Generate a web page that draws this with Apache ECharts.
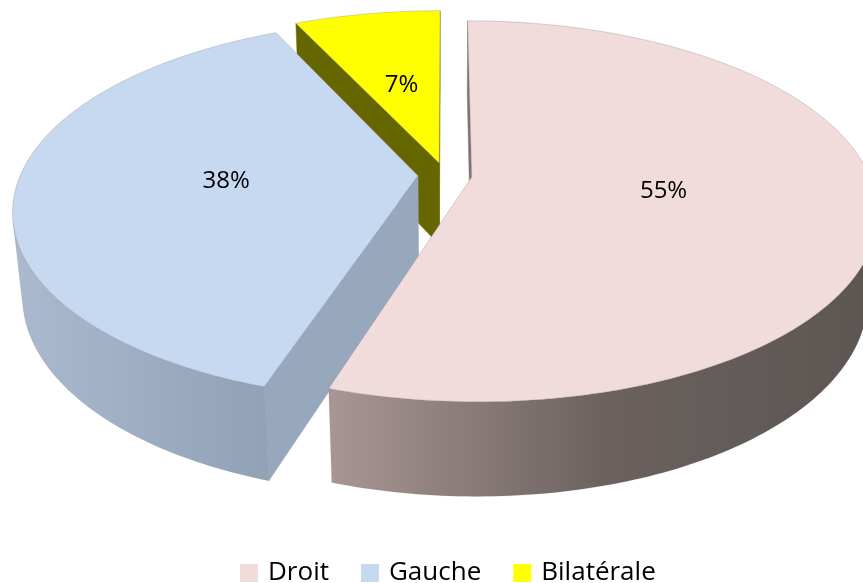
<!DOCTYPE html>
<html>
<head>
<meta charset="utf-8">
<script src="https://cdn.jsdelivr.net/npm/echarts@6/dist/echarts.min.js"></script>
<style>
  html, body { margin: 0; padding: 0; background: #ffffff; }
  #chart { width: 863px; height: 583px; }
</style>
</head>
<body>
<div id="chart"></div>
<script>
// Répartition par côté
const categories = ['Droit', 'Gauche', 'Bilatérale'];
const shares = [55, 38, 7];

// Palette: top faces, radial cut faces, outer rim gradient stops
const topColors = ['#F2DCDB', '#C6D9F1', '#FFFF00'];
const cutColors = ['#7f7371', '#97a8bc', '#666600'];
const rimStops = [
  [[0, '#a99694'], [0.5, '#6b6260'], [1, '#5c5552']],
  [[0, '#abbace'], [0.6, '#9aabc0'], [1, '#91a2b7']],
  [[0, '#b3b300'], [1, '#808000']]
];

// Camera and solid geometry (unit pie radius)
const view = {
  cx: 445, cy: 175, f: 1960, D: 4.93,
  tilt: 27.5 * Math.PI / 180,
  depth: 0.24, explode: 0.068, labelAt: 0.48
};

function project(X, Y, Z) {
  const c = Math.cos(view.tilt), s = Math.sin(view.tilt);
  const yc = Y * c + Z * s;
  const d = view.D + Z * c - Y * s;
  return [view.cx + view.f * X / d, view.cy - view.f * yc / d];
}

const camera = [0, view.D * Math.sin(view.tilt), -view.D * Math.cos(view.tilt)];
function facesCamera(n, p) {
  return n[0] * (camera[0] - p[0]) + n[1] * (camera[1] - p[1]) + n[2] * (camera[2] - p[2]) > 0;
}

const total = shares.reduce((a, b) => a + b, 0);

function sliceRenderer(idx) {
  return function (params, api) {
    const value = api.value(0);
    let before = 0;
    for (let k = 0; k < idx; k++) before += shares[k];
    const t1 = before / total * Math.PI * 2;
    const t2 = (before + value) / total * Math.PI * 2;
    const mid = (t1 + t2) / 2;
    const ox = view.explode * Math.sin(mid);
    const oz = view.explode * Math.cos(mid);
    const H = view.depth;
    const rim = (t, Y) => project(ox + Math.sin(t), Y, oz + Math.cos(t));
    const apex = (Y) => project(ox, Y, oz);

    const children = [];
    const steps = Math.max(8, Math.ceil((t2 - t1) / (Math.PI / 180)));

    // radial cut faces
    const cut = (t, n) => {
      if (!facesCamera(n, [ox, 0, oz])) return;
      children.push({
        type: 'polygon',
        shape: { points: [apex(0), rim(t, 0), rim(t, -H), apex(-H)] },
        style: { fill: cutColors[idx], stroke: cutColors[idx], lineWidth: 0.5 }
      });
    };
    cut(t1, [-Math.cos(t1), 0, Math.sin(t1)]);
    cut(t2, [Math.cos(t2), 0, -Math.sin(t2)]);

    // outer curved wall, drawn in visible runs
    let run = null;
    const runs = [];
    for (let i = 0; i < steps; i++) {
      const a = t1 + (t2 - t1) * i / steps;
      const b = t1 + (t2 - t1) * (i + 1) / steps;
      const m = (a + b) / 2;
      const vis = facesCamera([Math.sin(m), 0, Math.cos(m)], [ox + Math.sin(m), 0, oz + Math.cos(m)]);
      if (vis) {
        if (!run) { run = [a, b]; runs.push(run); } else run[1] = b;
      } else run = null;
    }
    runs.forEach(([a, b]) => {
      const n = Math.max(2, Math.ceil((b - a) / (Math.PI / 180)));
      const pts = [];
      for (let i = 0; i <= n; i++) pts.push(rim(a + (b - a) * i / n, 0));
      for (let i = n; i >= 0; i--) pts.push(rim(a + (b - a) * i / n, -H));
      children.push({
        type: 'polygon',
        shape: { points: pts },
        style: {
          fill: new echarts.graphic.LinearGradient(0, 0, 1, 0,
            rimStops[idx].map(([o, c]) => ({ offset: o, color: c }))),
          stroke: 'rgba(110,110,110,0.25)', lineWidth: 0.6
        }
      });
    });

    // top face
    const top = [apex(0)];
    for (let i = 0; i <= steps; i++) top.push(rim(t1 + (t2 - t1) * i / steps, 0));
    children.push({
      type: 'polygon',
      shape: { points: top },
      style: { fill: topColors[idx], stroke: 'rgba(140,140,140,0.45)', lineWidth: 0.8 }
    });

    // percentage label
    const lp = project(ox + view.labelAt * Math.sin(mid), 0, oz + view.labelAt * Math.cos(mid));
    children.push({
      type: 'text',
      style: {
        text: value + '%', x: lp[0], y: lp[1],
        align: 'center', verticalAlign: 'middle',
        font: '24px "Open Sans"', fill: '#000000'
      }
    });

    return { type: 'group', children: children };
  };
}

const chart = echarts.init(document.getElementById('chart'), null, { renderer: 'canvas' });
chart.setOption({
  animation: false,
  color: topColors,
  legend: {
    left: 235, top: 555,
    icon: 'rect', itemWidth: 18, itemHeight: 18, itemGap: 32,
    data: categories,
    textStyle: { fontFamily: 'Open Sans', fontSize: 26, color: '#000000', lineHeight: 26, padding: [0, 0, 0, 5] }
  },
  series: categories.map((name, i) => ({
    type: 'custom',
    name: name,
    coordinateSystem: 'none',
    z: 3 - i,
    itemStyle: { color: topColors[i], borderWidth: 0 },
    renderItem: sliceRenderer(i),
    data: [[shares[i]]]
  }))
});
</script>
</body>
</html>
